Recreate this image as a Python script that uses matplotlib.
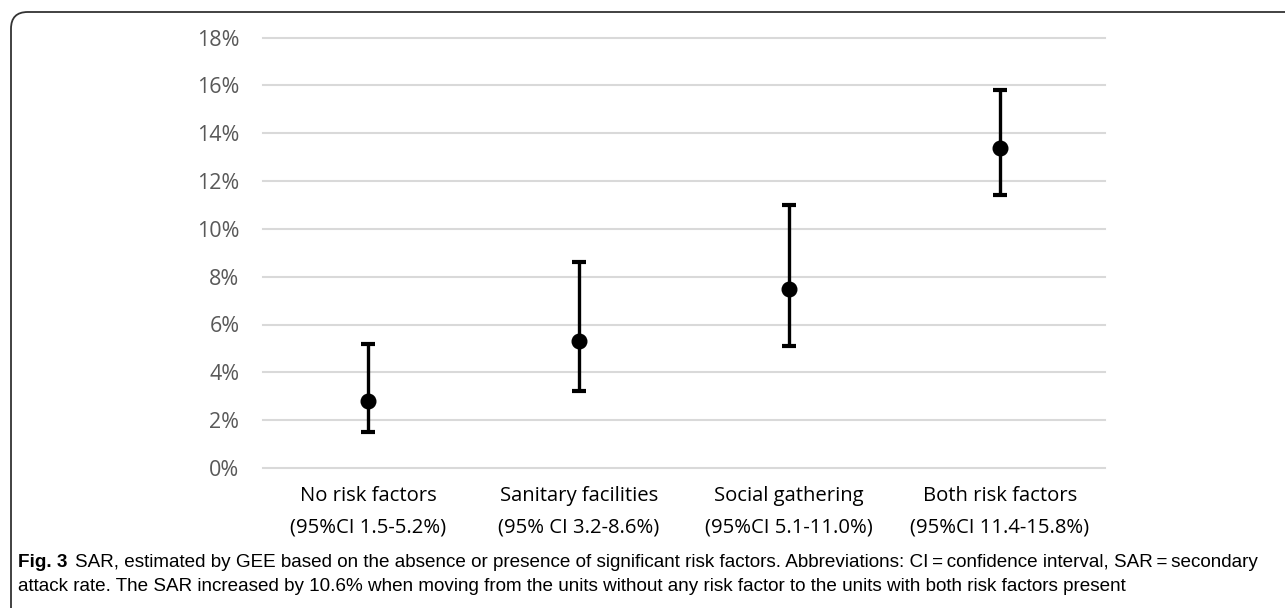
import matplotlib.pyplot as plt
from matplotlib.patches import FancyBboxPatch
from matplotlib.ticker import FuncFormatter

groups = ['No risk factors', 'Sanitary facilities', 'Social gathering', 'Both risk factors']
ci_labels = ['(95%CI 1.5-5.2%)', '(95% CI 3.2-8.6%)', '(95%CI 5.1-11.0%)', '(95%CI 11.4-15.8%)']
sar = [2.8, 5.3, 7.5, 13.4]
ci_low = [1.5, 3.2, 5.1, 11.4]
ci_high = [5.2, 8.6, 11.0, 15.8]
yticks = [0, 2, 4, 6, 8, 10, 12, 14, 16, 18]

caption_bold = 'Fig. 3'
caption_line1 = ('SAR, estimated by GEE based on the absence or presence of significant risk factors. '
                 'Abbreviations: CI\u2009=\u2009confidence interval, SAR\u2009=\u2009secondary')
caption_line2 = ('attack rate. The SAR increased by 10.6% when moving from the units without any risk '
                 'factor to the units with both risk factors present')

W, H = 1285, 608
fig = plt.figure(figsize=(W / 100, H / 100), dpi=100)
ax = fig.add_axes([263 / W, 1 - 468 / H, (1105 - 263) / W, (468 - 37.5) / H])

x = list(range(len(groups)))
err = [[s - lo for s, lo in zip(sar, ci_low)], [hi - s for s, hi in zip(sar, ci_high)]]
ax.errorbar(x, sar, yerr=err, fmt='o', color='black', ms=10.5, elinewidth=2.4,
            capsize=5, capthick=3, zorder=3)

ax.set_xlim(-0.5, len(groups) - 0.5)
ax.set_ylim(0, 18)
ax.set_yticks(yticks)
ax.yaxis.set_major_formatter(FuncFormatter(lambda v, p: f'{v:.0f}%'))
ax.grid(axis='y', color='#d9d9d9', lw=1.5)
for gl in ax.yaxis.get_gridlines():
    gl.set_clip_on(False)
ax.set_axisbelow(True)
for s in ax.spines.values():
    s.set_visible(False)
ax.tick_params(axis='y', length=0, pad=17, labelsize=15.5, labelcolor='#595959')
ax.tick_params(axis='x', length=0, pad=13, labelsize=14.6, labelcolor='black')
ax.set_xticks(x)
ax.set_xticklabels([f'{g}\n{c}' for g, c in zip(groups, ci_labels)], linespacing=1.75)
for lab in ax.get_xticklabels() + ax.get_yticklabels():
    lab.set_family('Open Sans')

# frame: top and left edge with rounded corner
frame = FancyBboxPatch((11 / W, -0.1), 1.2, 1 - 12 / H + 0.1,
                       boxstyle='round,pad=0,rounding_size=0.013',
                       transform=fig.transFigure, fill=False, ec='#333333', lw=1.3,
                       mutation_aspect=W / H)
fig.patches.append(frame)

# caption, scaled so that the first line ends where the reference does
cap_font = ['Liberation Sans', 'DejaVu Sans']
size = 13
t1 = fig.text(18 / W, 1 - 567 / H, caption_bold, fontsize=size, weight='bold',
              family=cap_font, va='baseline')
fig.canvas.draw()
bb = t1.get_window_extent()
t2 = fig.text((bb.x1 + 9) / W, 1 - 567 / H, caption_line1, fontsize=size, family=cap_font,
              va='baseline')
fig.canvas.draw()
right = t2.get_window_extent().x1
scale = (1262 - 18) / (right - 18)
size = size * scale
t1.set_fontsize(size)
fig.canvas.draw()
bb = t1.get_window_extent()
t2.set_fontsize(size)
t2.set_x((bb.x1 + 8) / W)
fig.text(18 / W, 1 - 591 / H, caption_line2, fontsize=size, family=cap_font, va='baseline')

fig.savefig('out.png', dpi=100)
